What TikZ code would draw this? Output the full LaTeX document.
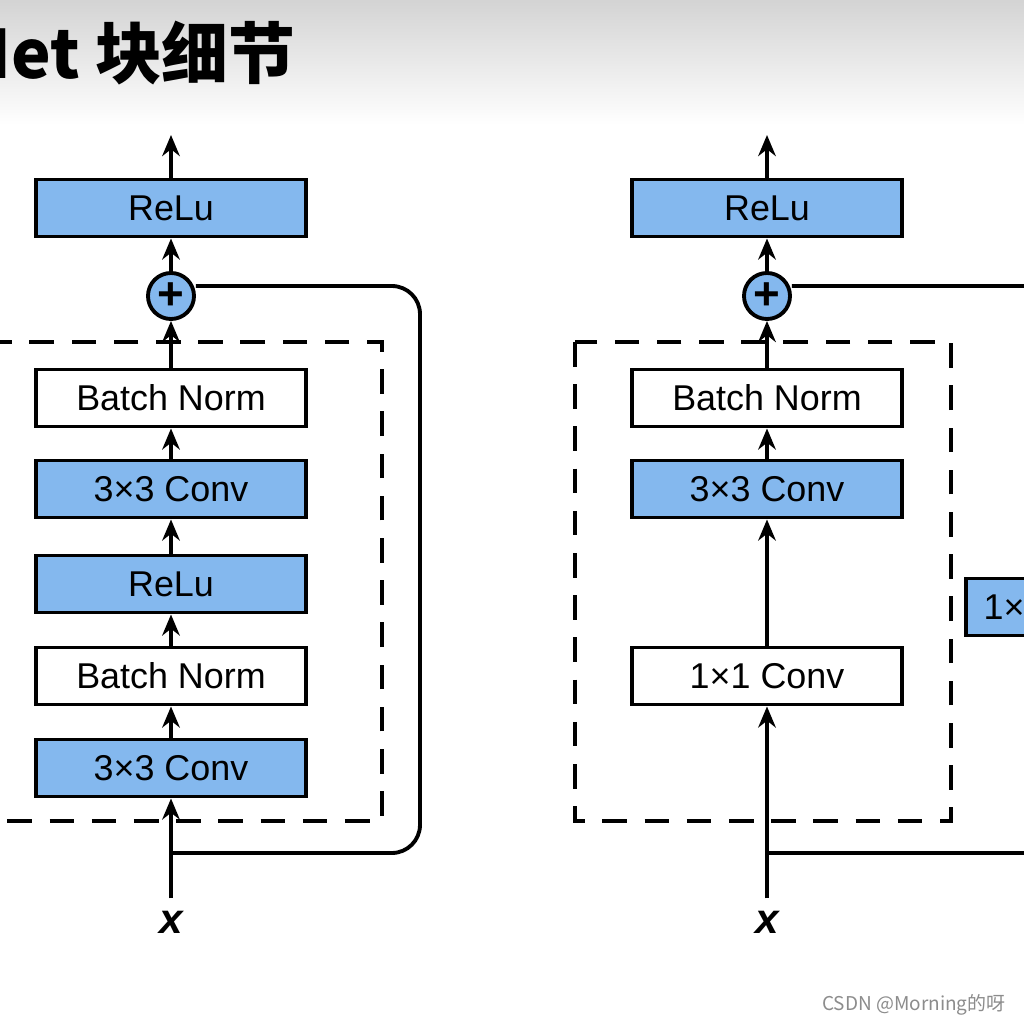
\documentclass[tikz,border=0pt]{standalone}
\usepackage{fontspec}
\setmainfont{Liberation Sans}
\newfontfamily\cjk{Noto Sans CJK SC}
\usetikzlibrary{arrows.meta}
\begin{document}
\begin{tikzpicture}[x=0.01cm,y=-0.01cm,
  blk/.style={draw=black,line width=1.1pt,minimum width=2.7cm,minimum height=0.57cm,inner sep=0pt,font=\fontsize{10.2}{12}\selectfont},
  blue/.style={blk,fill=myblue},
  plain/.style={blk,fill=white},
  addc/.style={circle,draw=black,line width=1.1pt,fill=myblue,minimum size=0.46cm,inner sep=0pt,font=\bfseries\fontsize{13}{13}\selectfont},
  flow/.style={line width=1.1pt,-{Stealth[length=6pt,width=5pt]}},
  skip/.style={line width=1.1pt,rounded corners=8pt},
  box/.style={line width=1.1pt,dash pattern=on 7pt off 5pt}]
\definecolor{myblue}{RGB}{132,184,238}
\clip (0,0) rectangle (1024,1024);
\shade[top color=black!17,bottom color=white] (0,0) rectangle (1024,125);
\fill[white] (0,125) rectangle (1024,1024);
\node[anchor=base east,font=\cjk\bfseries\fontsize{19}{21}\selectfont] (title) at (308,78) {ResNet 块细节};
% left block
\draw[box] (-20,342) rectangle (382,821);
\node[blue] (r1) at (171,208) {ReLu};
\node[addc] (p1) at (171,296) {+};
\node[plain] (bn2) at (171,398) {Batch Norm};
\node[blue] (c2) at (171,489) {3×3 Conv};
\node[blue] (r0) at (171,584) {ReLu};
\node[plain] (bn1) at (171,676) {Batch Norm};
\node[blue] (c1) at (171,768) {3×3 Conv};
\node[font=\bfseries\itshape\fontsize{12}{12}\selectfont] (x1) at (171,922) {x};
\coordinate (o1) at (171,135);
\coordinate (s1) at (171,853);
\draw[flow] (x1) -- (c1);
\draw[flow] (c1) -- (bn1);
\draw[flow] (bn1) -- (r0);
\draw[flow] (r0) -- (c2);
\draw[flow] (c2) -- (bn2);
\draw[flow] (bn2) -- (p1);
\draw[flow] (p1) -- (r1);
\draw[flow] (r1) -- (o1);
\draw[skip] (s1) -- (420,853) -- (420,286) -- (p1.east |- 0,286);
% right block
\draw[box] (575,342) rectangle (951,821);
\node[blue] (r2) at (767,208) {ReLu};
\node[addc] (p2) at (767,296) {+};
\node[plain] (bn3) at (767,398) {Batch Norm};
\node[blue] (c4) at (767,489) {3×3 Conv};
\node[plain] (c3) at (767,676) {1×1 Conv};
\node[blue,anchor=west,minimum width=1.9cm] (c5) at (964,607) {1×1 Conv};
\node[font=\bfseries\itshape\fontsize{12}{12}\selectfont] (x2) at (767,922) {x};
\coordinate (o2) at (767,135);
\coordinate (s2) at (767,853);
\draw[flow] (x2) -- (c3);
\draw[flow] (c3) -- (c4);
\draw[flow] (c4) -- (bn3);
\draw[flow] (bn3) -- (p2);
\draw[flow] (p2) -- (r2);
\draw[flow] (r2) -- (o2);
\draw[skip] (s2) -- (1024,853) -- (1060,853) -- (1060,286) -- (p2.east |- 0,286);
\node[anchor=base east,text=black!45,font=\cjk\fontsize{5.4}{6}\selectfont] (wm) at (1018,1010) {CSDN @Morning的呀};
\end{tikzpicture}
\end{document}
